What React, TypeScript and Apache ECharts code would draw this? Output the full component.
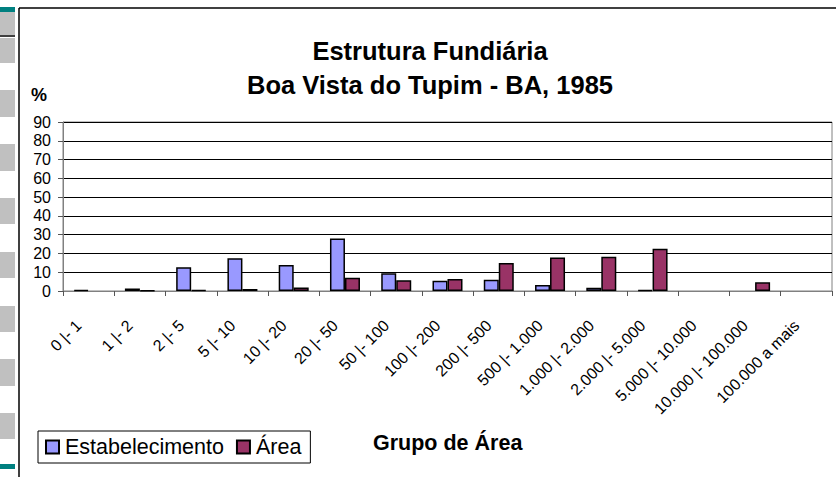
import React, { useEffect, useRef } from "react";
import * as echarts from "echarts";

const categories = [
  "0 |- 1", "1 |- 2", "2 |- 5", "5 |- 10", "10 |- 20", "20 |- 50", "50 |- 100",
  "100 |- 200", "200 |- 500", "500 |- 1.000", "1.000 |- 2.000", "2.000 |- 5.000",
  "5.000 |- 10.000", "10.000 |- 100.000", "100.000 a mais",
];
const estabelecimento = [0.6, 1.3, 12.6, 17.4, 13.8, 27.9, 9.4, 5.5, 6.0, 3.2, 1.7, 0.6, 0, 0, 0];
const area = [0, 0.3, 0.4, 1.1, 1.8, 7.1, 5.7, 6.4, 14.9, 17.9, 18.3, 22.5, 0, 4.6, 0];
const yMax = 90;
const yInterval = 10;

const FONT = "'Liberation Sans', Arial, Helvetica, sans-serif";

// zero values draw nothing in the original chart
const noZero = (arr: number[]) => arr.map((v) => (v === 0 ? null : v));

export default function App() {
  const ref = useRef<HTMLDivElement>(null);
  useEffect(() => {
    document.body.style.margin = "0";
    const chart = echarts.init(ref.current!, null, { renderer: "svg" });
    const greyBoxes = [[12, 35], [38, 63], [90, 117], [144, 171], [198, 224], [252, 278], [306, 332], [359, 386], [413, 439]];
    const graphics: any[] = greyBoxes.map(([a, b]) => ({
      type: "rect", shape: { x: 0, y: a, width: 15, height: b - a }, style: { fill: "#C0C0C0" }, silent: true,
    }));
    graphics.push(
      { type: "rect", shape: { x: 0, y: 7, width: 15, height: 5 }, style: { fill: "#008080" } },
      { type: "rect", shape: { x: 0, y: 464, width: 15, height: 5 }, style: { fill: "#008080" } },
      { type: "line", shape: { x1: 0, y1: 36, x2: 15, y2: 36 }, style: { stroke: "#000", lineWidth: 1.5 } },
      { type: "line", shape: { x1: 19, y1: 8, x2: 19, y2: 477 }, style: { stroke: "#000", lineWidth: 1.5 } },
      { type: "line", shape: { x1: 19, y1: 8, x2: 836, y2: 8 }, style: { stroke: "#000", lineWidth: 1.5 } },
      { type: "text", x: 430, y: 51, style: { text: "Estrutura Fundiária", font: `bold 25.5px ${FONT}`, fill: "#000", align: "center", verticalAlign: "middle" } },
      { type: "text", x: 430, y: 85, style: { text: "Boa Vista do Tupim - BA, 1985", font: `bold 25.5px ${FONT}`, fill: "#000", align: "center", verticalAlign: "middle" } },
      { type: "text", x: 31, y: 95, style: { text: "%", font: `bold 18px ${FONT}`, fill: "#000", align: "left", verticalAlign: "middle" } },
      { type: "text", x: 373, y: 443, style: { text: "Grupo de Área", font: `bold 21.5px ${FONT}`, fill: "#000", align: "left", verticalAlign: "middle" } },
    );
    chart.setOption({
      animation: false,
      backgroundColor: "#fff",
      textStyle: { fontFamily: FONT },
      grid: { left: 63, top: 122, right: 4, bottom: 186, show: true, borderColor: "#808080", borderWidth: 1 },
      legend: {
        left: 38, top: 431, orient: "horizontal",
        padding: [5, 9, 5, 7], itemGap: 12, itemWidth: 13, itemHeight: 13,
        borderColor: "#000", borderWidth: 1, backgroundColor: "#fff",
        icon: "rect",
        textStyle: { fontSize: 21.5, color: "#000", fontFamily: FONT, padding: [0, 0, 0, 1] },
        data: ["Estabelecimento", "Área"],
      },
      xAxis: {
        type: "category", data: categories,
        axisLine: { lineStyle: { color: "#808080", width: 1 } },
        axisTick: { show: true, length: 5, lineStyle: { color: "#555" } },
        axisLabel: { rotate: 45, margin: 22, padding: [0, 14, 0, 0], fontSize: 16, color: "#000", fontFamily: FONT, interval: 0 },
      },
      yAxis: {
        type: "value", min: 0, max: yMax, interval: yInterval,
        axisLine: { show: true, lineStyle: { color: "#808080", width: 1 } },
        axisTick: { show: true, length: 5, lineStyle: { color: "#555" } },
        axisLabel: { fontSize: 16, color: "#000", margin: 12, fontFamily: FONT },
        splitLine: { lineStyle: { color: "#000", width: 1 } },
      },
      series: [
        {
          name: "Estabelecimento", type: "bar", data: noZero(estabelecimento), barWidth: 15, barGap: "0%",
          itemStyle: { color: "#9999FF", borderColor: "#000", borderWidth: 1.5 },
        },
        {
          name: "Área", type: "bar", data: noZero(area), barWidth: 15, barGap: "0%",
          itemStyle: { color: "#993366", borderColor: "#000", borderWidth: 1.5 },
        },
      ],
      graphic: graphics,
    });
    return () => chart.dispose();
  }, []);
  return <div ref={ref} style={{ width: 836, height: 477 }} />;
}
